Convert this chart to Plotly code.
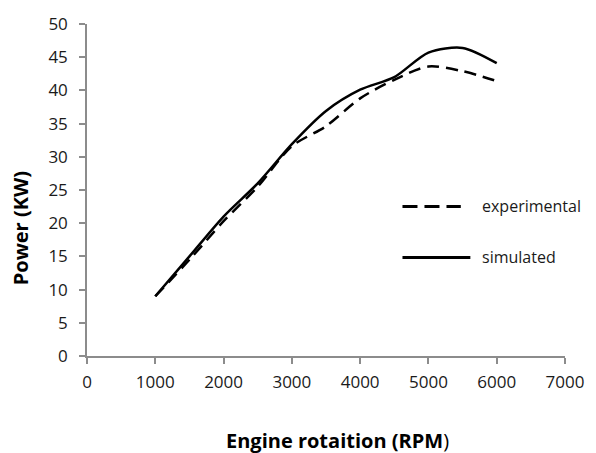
import plotly.graph_objects as go

rpm = [1000, 1500, 2000, 2500, 3000, 3500, 4000, 4500, 5000, 5500, 6000]
experimental = [9.0, 14.5, 20.3, 25.5, 31.6, 34.6, 38.8, 41.6, 43.6, 42.9, 41.4]
simulated = [9.0, 15.0, 21.0, 26.0, 31.9, 36.9, 40.1, 42.0, 45.7, 46.4, 44.1]
series_names = ["experimental", "simulated"]
x_ticks = [0, 1000, 2000, 3000, 4000, 5000, 6000, 7000]
y_ticks = [0, 5, 10, 15, 20, 25, 30, 35, 40, 45, 50]

font_family = "Open Sans, Liberation Sans, sans-serif"
dash_style = "12px,7px"
legend_dash = "15px,7px"

fig = go.Figure()
fig.add_trace(go.Scatter(
    x=rpm, y=experimental, name=series_names[0], mode="lines", showlegend=False,
    line=dict(color="black", width=2.5, dash=dash_style, shape="spline", smoothing=0.8),
))
fig.add_trace(go.Scatter(
    x=rpm, y=simulated, name=series_names[1], mode="lines", showlegend=False,
    line=dict(color="black", width=2.5, shape="spline", smoothing=0.8),
))

axis_common = dict(
    showgrid=False, zeroline=False, showline=True, linecolor="#8c8c8c", linewidth=1.5,
    ticks="outside", ticklen=6, tickcolor="#8c8c8c", tickwidth=1.5,
    tickfont=dict(family=font_family, size=17, color="#1a1a1a"),
)

# custom legend (longer sample lines, like the reference)
legend_shapes = [
    dict(type="line", xref="paper", yref="paper", x0=0.660, x1=0.782, y0=0.450, y1=0.450,
         line=dict(color="black", width=3, dash=legend_dash)),
    dict(type="line", xref="paper", yref="paper", x0=0.660, x1=0.802, y0=0.297, y1=0.297,
         line=dict(color="black", width=3)),
]
legend_labels = [
    dict(text=series_names[0], xref="paper", yref="paper", x=0.822, y=0.452,
         xanchor="left", yanchor="middle", showarrow=False,
         font=dict(family=font_family, size=16, color="#1a1a1a")),
    dict(text=series_names[1], xref="paper", yref="paper", x=0.822, y=0.299,
         xanchor="left", yanchor="middle", showarrow=False,
         font=dict(family=font_family, size=16, color="#1a1a1a")),
]

fig.update_layout(
    width=596, height=453,
    margin=dict(l=87, r=23, t=22, b=97),
    paper_bgcolor="white", plot_bgcolor="white",
    showlegend=False,
    xaxis=dict(range=[0, 7000], tickvals=x_ticks, ticklabelstandoff=4, **axis_common),
    yaxis=dict(range=[0, 50], tickvals=y_ticks, ticklabelstandoff=8, **axis_common),
    shapes=legend_shapes,
    annotations=legend_labels + [
        dict(text="<b>Engine rotaition (RPM</b>)", xref="paper", yref="paper",
             x=0.525, y=-0.254, xanchor="center", yanchor="middle", showarrow=False,
             font=dict(family=font_family, size=20, color="black")),
        dict(text="<b>Power (KW)</b>", xref="paper", yref="paper",
             x=-0.14, y=0.385, xanchor="center", yanchor="middle", showarrow=False,
             textangle=-90, font=dict(family=font_family, size=20, color="black")),
    ],
)

fig.write_html("out.html", config={"displayModeBar": False},
               post_script="document.body.style.margin='0';")
